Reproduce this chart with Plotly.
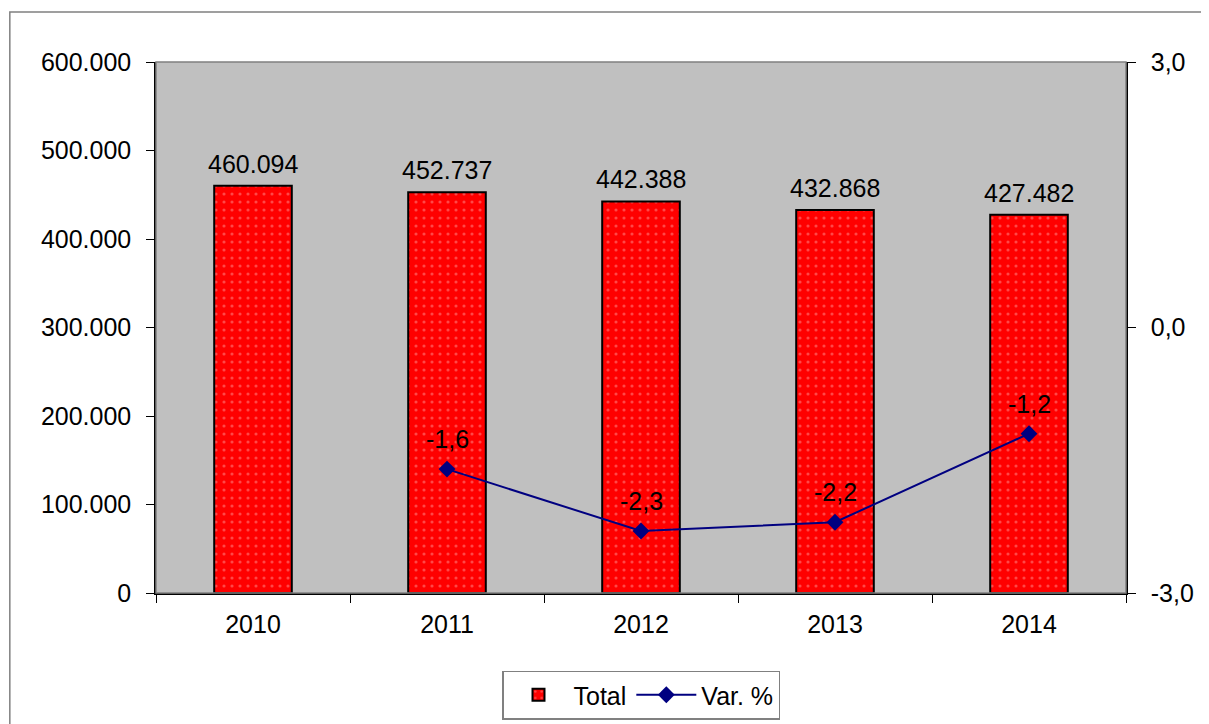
import plotly.graph_objects as go

YEARS = ["2010", "2011", "2012", "2013", "2014"]
TOTAL = [460094, 452737, 442388, 432868, 427482]
VAR_YEARS = ["2011", "2012", "2013", "2014"]
VAR_PCT = [-1.6, -2.3, -2.2, -1.2]
Y2_TICKS = [-3, 0, 3]


def pct(v):
    # Excel-style label: hyphen minus, comma decimal
    return f"{v:.1f}".replace(".", ",")


def thousands(v):
    return f"{v:,}".replace(",", ".")


INK = "#000000"
NAVY = "#000080"
FONT = dict(family="Liberation Sans, Arial, sans-serif", size=25, color=INK)

fig = go.Figure()
fig.add_bar(x=YEARS, y=TOTAL, name="Total", width=0.4,
            marker=dict(color="#ff0000", line=dict(color=INK, width=2),
                        pattern=dict(shape=".", fgcolor="#ff9090",
                                     bgcolor="#ff0000", size=8, solidity=0.12)))
fig.add_scatter(x=VAR_YEARS, y=VAR_PCT, name="Var. %", yaxis="y2",
                mode="lines+markers", line=dict(color=NAVY, width=2),
                marker=dict(symbol="diamond", size=13, color=NAVY))

# data labels, nudged up like the Excel original (category index for x)
for x, y in zip(YEARS, TOTAL):
    fig.add_annotation(x=YEARS.index(x), y=y, text=thousands(y),
                       showarrow=False, yanchor="bottom", yshift=6, font=FONT)
for x, y in zip(VAR_YEARS, VAR_PCT):
    fig.add_annotation(x=YEARS.index(x), y=y, yref="y2", text=pct(y),
                       showarrow=False, yanchor="bottom", yshift=14, font=FONT)

# outer chart frame and plot-area border
fig.add_shape(type="rect", xref="paper", yref="paper",
              x0=-0.1507, x1=1.2, y0=-0.4, y1=1.094,
              line=dict(color="#808080", width=1.5), layer="below")
fig.add_shape(type="rect", xref="paper", yref="paper",
              x0=0, x1=1, y0=0, y1=1, line=dict(color="#808080", width=1.5))

fig.update_layout(
    width=1209, height=724, separators=",.",
    margin=dict(l=148, r=91, t=54, b=139),
    paper_bgcolor="white", plot_bgcolor="#c0c0c0", font=FONT,
    showlegend=True, bargap=0.6,
    legend=dict(orientation="h", x=0.5, xanchor="center", y=-0.146,
                yanchor="top", bordercolor="#808080", borderwidth=1.5,
                font=dict(size=25), bgcolor="white", itemwidth=60,
                tracegroupgap=0),
    xaxis=dict(type="category", categoryarray=YEARS, tickson="boundaries",
               ticks="outside", ticklen=8, tickcolor=INK, showline=True,
               linecolor=INK, linewidth=1.5, showgrid=False,
               ticklabelstandoff=8),
    yaxis=dict(range=[0, 600000], dtick=100000, tickformat=",.0f",
               ticks="outside", ticklen=8, tickcolor=INK, showline=True,
               linecolor=INK, linewidth=1.5, showgrid=False, zeroline=False,
               ticklabelstandoff=10),
    yaxis2=dict(range=[-3, 3], tickvals=Y2_TICKS,
                ticktext=[pct(v) for v in Y2_TICKS], overlaying="y",
                side="right", ticks="outside", ticklen=8, tickcolor=INK,
                showline=True, linecolor=INK, linewidth=1.5, showgrid=False,
                zeroline=False, ticklabelstandoff=10),
)

fig.write_html("out.html")
